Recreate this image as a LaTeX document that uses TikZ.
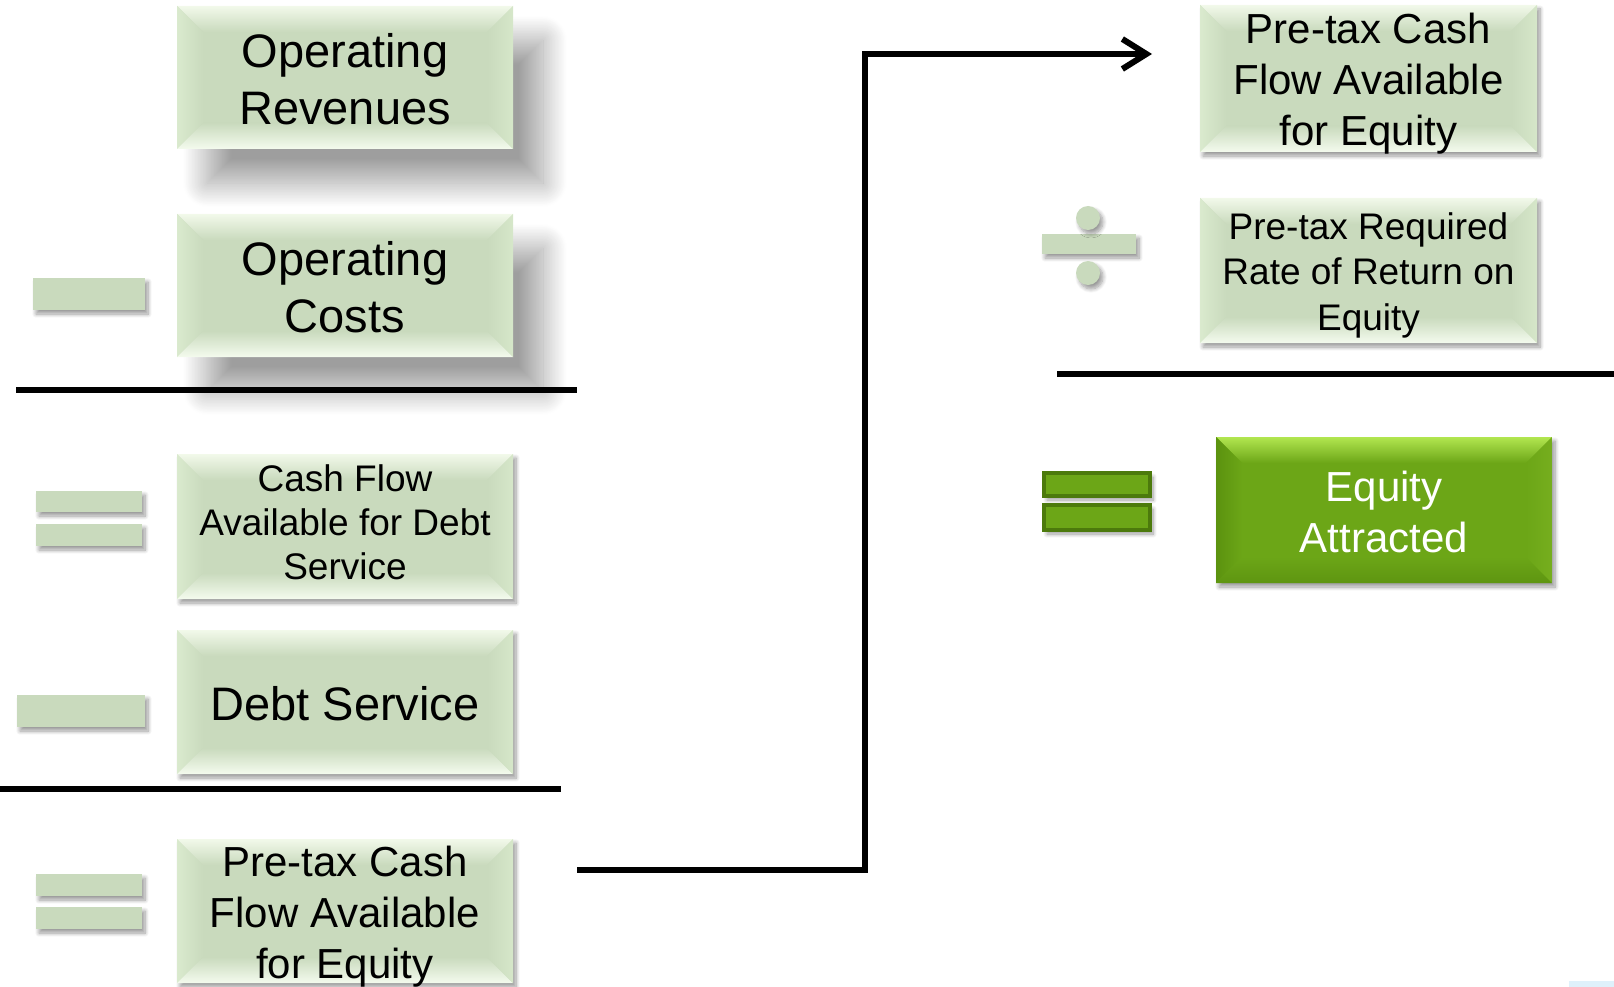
\documentclass[tikz,border=0pt]{standalone}
\usepackage{fontspec}
\setmainfont{Liberation Sans}
\usetikzlibrary{calc,shadows.blur,arrows.meta}

\definecolor{sage}{HTML}{C9DABD}
\definecolor{sagetop}{HTML}{F2F9EA}
\definecolor{sageleft}{HTML}{DAEACE}
\definecolor{sagebot}{HTML}{F4FBEE}
\definecolor{sageright}{HTML}{D6E7C9}
\definecolor{leaf}{HTML}{6CA617}
\definecolor{leaftop}{HTML}{B2E650}
\definecolor{leafleft}{HTML}{5B920F}
\definecolor{leafbot}{HTML}{5E9511}
\definecolor{leafright}{HTML}{76AE1E}
\definecolor{leafedge}{HTML}{4C7A0C}
\definecolor{mist}{HTML}{DFF1FB}

\newcommand\bevw{26pt}

\tikzset{
  % raised tile: face colour plus four shaded bevel strips
  bevel/.style n args={5}{fill=#1, path picture={
    \coordinate (pNW) at (path picture bounding box.north west);
    \coordinate (pNE) at (path picture bounding box.north east);
    \coordinate (pSW) at (path picture bounding box.south west);
    \coordinate (pSE) at (path picture bounding box.south east);
    \coordinate (iNW) at ($(pNW)+(\bevw,-\bevw)$);
    \coordinate (iNE) at ($(pNE)+(-\bevw,-\bevw)$);
    \coordinate (iSW) at ($(pSW)+(\bevw,\bevw)$);
    \coordinate (iSE) at ($(pSE)+(-\bevw,\bevw)$);
    \shade[top color=#2,bottom color=#1] (pNW) -- (pNE) -- (iNE) -- (iNW) -- cycle;
    \shade[left color=#3,right color=#1] (pNW) -- (iNW) -- (iSW) -- (pSW) -- cycle;
    \shade[top color=#1,bottom color=#4] (pSW) -- (iSW) -- (iSE) -- (pSE) -- cycle;
    \shade[left color=#1,right color=#5] (pNE) -- (iNE) -- (iSE) -- (pSE) -- cycle;
  }},
  tile/.style={bevel={sage}{sagetop}{sageleft}{sagebot}{sageright},
    inner sep=0pt, minimum width=336pt, minimum height=143pt},
  greentile/.style={bevel={leaf}{leaftop}{leafleft}{leafbot}{leafright},
    inner sep=0pt, minimum width=336pt, minimum height=146pt},
  tiletext/.style={inner sep=0pt, align=center, text=black},
  deepshadow/.style={blur shadow={shadow xshift=30pt, shadow yshift=-34pt,
    shadow blur radius=24pt, shadow blur steps=40, shadow opacity=38}},
  softshadow/.style={blur shadow={shadow xshift=3pt, shadow yshift=-4pt,
    shadow blur radius=4pt, shadow blur steps=8, shadow opacity=40}},
  bigtext/.style={font=\fontsize{47}{57}\selectfont},
  midtext/.style={font=\fontsize{42}{51}\selectfont},
  opbar/.style={fill=sage, inner sep=0pt, softshadow},
  greenbar/.style={fill=leaf, draw=leafedge, line width=4pt, inner sep=0pt, softshadow},
  dot/.style={circle, fill=sage, inner sep=0pt, minimum size=24pt, softshadow},
  rule/.style={line width=6.5pt},
  conn/.style={line width=6pt, -{Straight Barb[length=24pt,width=30pt]}},
}

\begin{document}
\begin{tikzpicture}[x=1pt,y=-1pt]
\useasboundingbox (0,0) rectangle (1614,987);

% left column: the cash flow waterfall
\node[tile, deepshadow] (oprev) at (345,77.5) {};
\node[tiletext, bigtext] (oprevT) at ($(oprev.center)+(0pt,-2pt)$) {Operating\\Revenues};
\node[tile, deepshadow] (opcost) at (345,285.5) {};
\node[tiletext, bigtext] (opcostT) at ($(opcost.center)+(0pt,-2pt)$) {Operating\\Costs};
\node[opbar, minimum width=112pt, minimum height=32pt] (minusA) at (89,294) {};
\draw[rule] (16,390) -- (577,390);

\node[tile, softshadow, minimum height=145pt] (cfads) at (345,526.5) {};
\node[tiletext, font=\fontsize{37}{44}\selectfont] (cfadsT) at ($(cfads.center)+(0pt,4.5pt)$)
  {Cash Flow\\Available for Debt\\Service};
\node[opbar, minimum width=106pt, minimum height=21pt] (eqAa) at (89,501.5) {};
\node[opbar, minimum width=106pt, minimum height=22pt] (eqAb) at (89,535) {};

\node[tile, softshadow, minimum height=144pt] (debt) at (345,702) {};
\node[tiletext, bigtext] (debtT) at ($(debt.center)+(0pt,-2pt)$) {Debt Service};
\node[opbar, minimum width=128pt, minimum height=32pt] (minusB) at (81,711) {};
\draw[rule] (0,789) -- (561,789);

\node[tile, softshadow, minimum height=144pt] (ptcf) at (345,911) {};
\node[tiletext, midtext] (ptcfT) at ($(ptcf.center)+(0pt,-6pt)$)
  {Pre-tax Cash\\Flow Available\\for Equity};
\node[opbar, minimum width=106pt, minimum height=22pt] (eqBa) at (89,885) {};
\node[opbar, minimum width=106pt, minimum height=22pt] (eqBb) at (89,918) {};

% right column: capitalising the equity cash flow
\node[tile, softshadow, minimum width=337pt, minimum height=147pt] (ptcfR) at (1368.5,78.5) {};
\node[tiletext, midtext] (ptcfRT) at ($(ptcfR.center)+(0pt,-5pt)$)
  {Pre-tax Cash\\Flow Available\\for Equity};
\node[tile, softshadow, minimum width=337pt, minimum height=145pt] (rate) at (1368.5,270.5) {};
\node[tiletext, font=\fontsize{37}{45.5}\selectfont] (rateT) at ($(rate.center)+(0pt,-4.5pt)$)
  {Pre-tax Required\\Rate of Return on\\Equity};
\node[opbar, minimum width=94pt, minimum height=20pt] (divbar) at (1089,244) {};
\node[dot] (dotU) at (1088,218) {};
\node[dot] (dotD) at (1088,273) {};
\draw[rule] (1057,374) -- (1614,374);

\node[greentile, softshadow] (equity) at (1384,510) {};
\node[tiletext, text=white, midtext] (equityT) at ($(equity.center)+(0pt,-2pt)$)
  {Equity\\Attracted};
\node[greenbar, minimum width=106pt, minimum height=23pt] (geqA) at (1097,484.5) {};
\node[greenbar, minimum width=106pt, minimum height=25pt] (geqB) at (1097,517.5) {};

% carry the equity cash flow over to the right-hand side
\coordinate (cStart) at (577,870);
\coordinate (cTip) at (1152,54);
\draw[conn] (cStart) -- (864.5,870) -- (864.5,54) -- (cTip);

\fill[mist] (1569,981) rectangle (1614,987);
\end{tikzpicture}
\end{document}
